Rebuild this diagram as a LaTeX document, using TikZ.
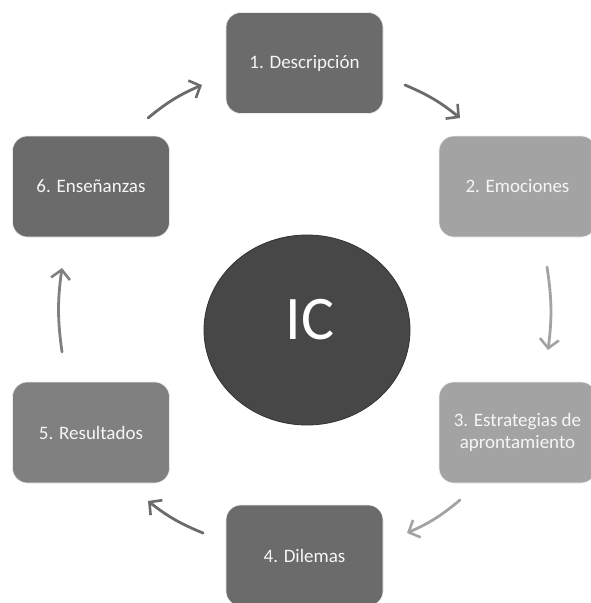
\documentclass[tikz,border=0pt]{standalone}
\usepackage{fontspec}
\setmainfont{Carlito}
\usetikzlibrary{arrows.meta}
\definecolor{gdark}{HTML}{6B6B6B}
\definecolor{gmid}{HTML}{808080}
\definecolor{glight}{HTML}{A3A3A3}
\definecolor{gcirc}{HTML}{474747}
\begin{document}
\begin{tikzpicture}[x=1pt,y=-1pt, font=\fontsize{19}{22}\selectfont, line join=round, line cap=round,
	stage/.style={rounded corners=15pt, minimum width=157pt, minimum height=101pt, inner sep=0pt,
		draw=white!85!gray, line width=.6pt, text=white!93!gray, align=center},
	cyc/.style={line width=2.8pt, -{Straight Barb[length=9pt,width=19pt,line width=2.6pt]}}]
	\useasboundingbox (0,0) rectangle (591,603);
	\node[stage, fill=gdark] (desc) at (304.5,63) {1. Descripción};
	\node[stage, fill=glight] (emo) at (517.5,186.5) {2. Emociones};
	\node[stage, fill=glight] (estr) at (517.5,432.5) {3. Estrategias de\\apronta­miento};
	\node[stage, fill=gdark] (dil) at (304.5,555.5) {4. Dilemas};
	\node[stage, fill=gmid] (res) at (91,432.5) {5. Resultados};
	\node[stage, fill=gdark] (ens) at (91,186.5) {6. Enseñanzas};
	\draw[fill=gcirc, draw=black!80, line width=.8pt] (307,330) ellipse [x radius=103, y radius=95];
	\node[text=white, font=\fontsize{62}{70}\selectfont] (ic) at (310,320) {IC};
	% flechas del ciclo
	\coordinate (a1) at (405,85);  \coordinate (b1) at (460,118);
	\coordinate (a2) at (547,267); \coordinate (b2) at (548,350);
	\coordinate (a3) at (460,500); \coordinate (b3) at (407,533);
	\coordinate (a4) at (203,533); \coordinate (b4) at (148,501);
	\coordinate (a5) at (62,352);  \coordinate (b5) at (62,268);
	\coordinate (a6) at (148,118); \coordinate (b6) at (202,85);
	\draw[cyc, gdark] (a1) to[bend left=8] (b1);
	\draw[cyc, glight] (a2) to[bend left=8] (b2);
	\draw[cyc, glight] (a3) to[bend left=8] (b3);
	\draw[cyc, gdark] (a4) to[bend left=8] (b4);
	\draw[cyc, gmid] (a5) to[bend left=8] (b5);
	\draw[cyc, gdark] (a6) to[bend left=8] (b6);
\end{tikzpicture}
\end{document}
